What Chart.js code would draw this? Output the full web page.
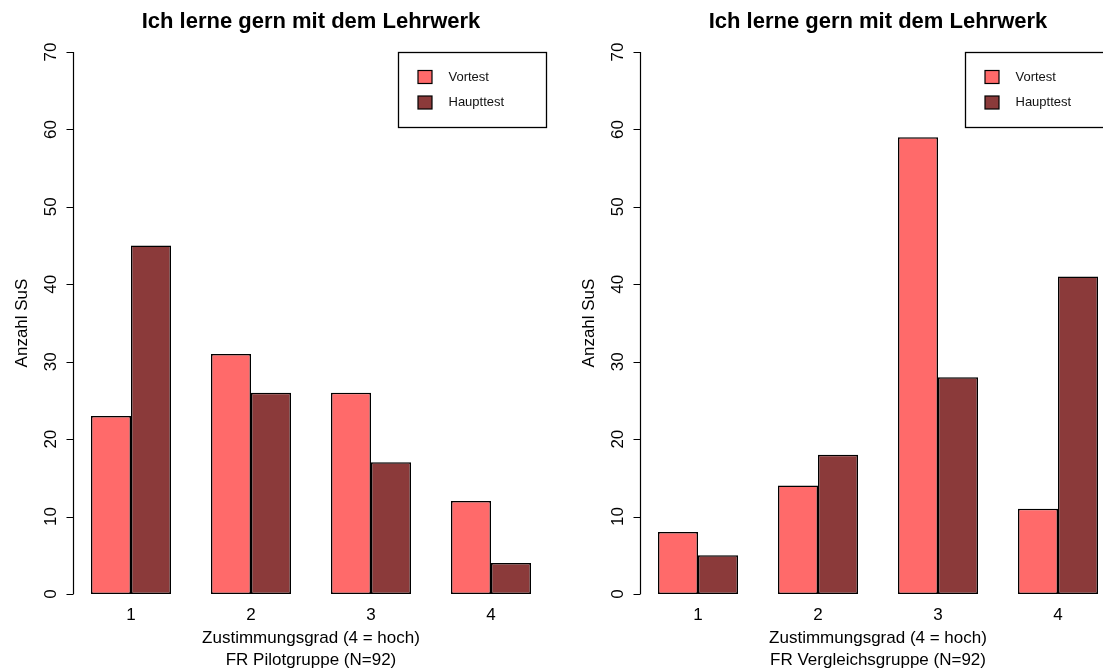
<!DOCTYPE html>
<html>
<head>
<meta charset="utf-8">
<script src="https://cdn.jsdelivr.net/npm/chart.js@4.4.1/dist/chart.umd.min.js"></script>
<style>
  html, body { margin: 0; padding: 0; background: #fff; overflow: hidden; width: 1103px; height: 668px; }
  .panel { position: absolute; top: 0; width: 560px; height: 668px; }
  #p1 { left: 0; }
  #p2 { left: 567px; }
</style>
</head>
<body>
<div class="panel" id="p1"><canvas id="c1"></canvas></div>
<div class="panel" id="p2"><canvas id="c2"></canvas></div>
<script>
// ---- data ----
const categories = ['1', '2', '3', '4'];
const seriesNames = ['Vortest', 'Haupttest'];
const pilotVortest = [23, 31, 26, 12];
const pilotHaupttest = [45, 26, 17, 4];
const vergleichVortest = [8, 14, 59, 11];
const vergleichHaupttest = [5, 18, 28, 41];
const yTickLabels = [0, 10, 20, 30, 40, 50, 60, 70];
const chartTitle = 'Ich lerne gern mit dem Lehrwerk';
const yTitle = 'Anzahl SuS';
const xTitleLine1 = 'Zustimmungsgrad (4 = hoch)';
const pilotGroup = 'FR Pilotgruppe (N=92)';
const vergleichGroup = 'FR Vergleichsgruppe (N=92)';

const FONT = '"Liberation Sans", Arial, Helvetica, sans-serif';
const colVortest = '#FF6A6A';
const colHaupttest = '#8B3A3A';

const rPlot = {
  id: 'rPlot',
  afterDraw(chart, args, opts) {
    const ctx = chart.ctx;
    const x = chart.scales.x, y = chart.scales.y;
    const area = chart.chartArea;
    const catW = area.width / categories.length;
    const barW = catW / 3;
    const firstBarLeft = x.getPixelForValue(0) - barW;
    const axisX = Math.round(firstBarLeft - 0.44 * barW) + 0.5;
    const yTop = y.getPixelForValue(yTickLabels[yTickLabels.length - 1]);
    const yBot = y.getPixelForValue(yTickLabels[0]);
    ctx.save();
    ctx.strokeStyle = '#000';
    ctx.lineWidth = 1.2;
    ctx.beginPath();
    ctx.moveTo(axisX, yTop);
    ctx.lineTo(axisX, yBot);
    yTickLabels.forEach(v => {
      const py = Math.round(y.getPixelForValue(v)) + 0.5;
      ctx.moveTo(axisX - 7, py);
      ctx.lineTo(axisX, py);
    });
    ctx.stroke();
    // tick labels rotated
    ctx.fillStyle = '#000';
    ctx.font = '17px ' + FONT;
    ctx.textAlign = 'center';
    ctx.textBaseline = 'alphabetic';
    yTickLabels.forEach(v => {
      const py = y.getPixelForValue(v);
      ctx.save();
      ctx.translate(axisX - 18, py);
      ctx.rotate(-Math.PI / 2);
      ctx.fillText(String(v), 0, 0);
      ctx.restore();
    });
    // y title
    ctx.save();
    ctx.translate(axisX - 47, (yTop + yBot) / 2);
    ctx.rotate(-Math.PI / 2);
    ctx.fillText(opts.yTitle, 0, 0);
    ctx.restore();
    // x titles
    const cx = (area.left + area.right) / 2;
    ctx.fillText(opts.xLines[0], cx, 643);
    ctx.fillText(opts.xLines[1], cx, 665);
    // main title
    ctx.font = 'bold 22px ' + FONT;
    ctx.fillText(opts.title, cx, 28);
    // legend
    const boxW = 148, boxH = 75;
    const bx = Math.round(area.right - 5 - boxW) + 0.5;
    const by = Math.round(yTop) + 0.5;
    ctx.lineWidth = 1.3;
    ctx.strokeStyle = '#000';
    ctx.fillStyle = '#fff';
    ctx.fillRect(bx, by, boxW, boxH);
    ctx.strokeRect(bx, by, boxW, boxH);
    ctx.font = '13px ' + FONT;
    ctx.textAlign = 'left';
    ctx.textBaseline = 'middle';
    chart.data.datasets.forEach((ds, i) => {
      const cy = by + 24.5 + i * 25.5;
      ctx.fillStyle = ds.backgroundColor;
      ctx.fillRect(bx + 19.5, cy - 6.5, 14, 13);
      ctx.lineWidth = 1.2;
      ctx.strokeRect(bx + 19.5, cy - 6.5, 14, 13);
      ctx.fillStyle = '#111';
      ctx.fillText(ds.label, bx + 50, cy);
    });
    ctx.restore();
  }
};

function makeChart(id, vorData, hauptData, groupLabel) {
  return new Chart(document.getElementById(id), {
    type: 'bar',
    data: {
      labels: categories,
      datasets: [
        { label: seriesNames[0], data: vorData, backgroundColor: colVortest, borderColor: '#000', borderWidth: 1.5, borderSkipped: false },
        { label: seriesNames[1], data: hauptData, backgroundColor: colHaupttest, borderColor: '#000', borderWidth: 1.5, borderSkipped: false }
      ]
    },
    options: {
      responsive: false,
      animation: false,
      devicePixelRatio: 1,
      maintainAspectRatio: false,
      categoryPercentage: 2 / 3,
      barPercentage: 1,
      layout: { padding: { left: 71, right: 9, top: 52, bottom: 31.6 } },
      plugins: {
        legend: { display: false },
        tooltip: { enabled: false },
        title: { display: false },
        rPlot: { title: chartTitle, yTitle: yTitle, xLines: [xTitleLine1, groupLabel] }
      },
      scales: {
        x: {
          grid: { display: false, drawTicks: false },
          border: { display: false },
          ticks: { color: '#000', font: { family: FONT, size: 17 }, padding: 11 }
        },
        y: {
          display: false,
          min: 0,
          max: 70
        }
      }
    },
    plugins: [rPlot]
  });
}

for (const c of ['c1', 'c2']) {
  const el = document.getElementById(c);
  el.width = 560; el.height = 668;
  el.style.width = '560px'; el.style.height = '668px';
}
makeChart('c1', pilotVortest, pilotHaupttest, pilotGroup);
makeChart('c2', vergleichVortest, vergleichHaupttest, vergleichGroup);
</script>
</body>
</html>
